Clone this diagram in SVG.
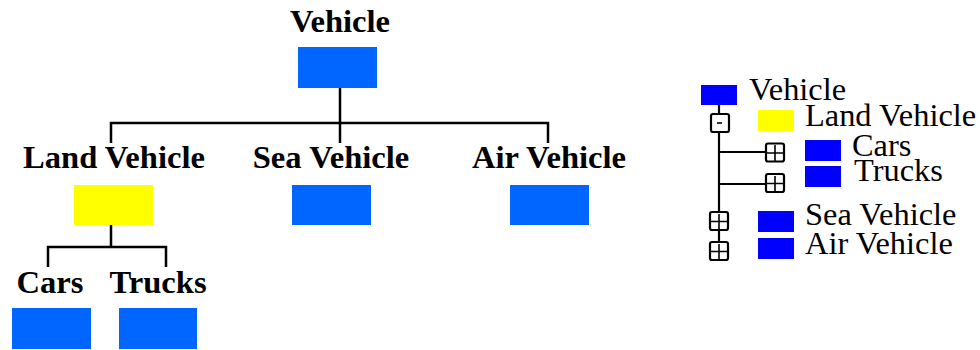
<svg xmlns="http://www.w3.org/2000/svg" width="980" height="350" viewBox="0 0 980 350">
<style>
.bt{font-family:"Liberation Serif","Times New Roman",serif;font-weight:bold;font-size:32.6px;fill:#000;text-anchor:middle}
.rt{font-family:"Liberation Serif","Times New Roman",serif;font-size:32.4px;fill:#000}
.blue{fill:#0066FF}
.yel{fill:#FFFF00}
.tb{fill:#0000FF}
.ln{stroke:#000;stroke-width:2.5;fill:none}
.tl{stroke:#000;stroke-width:2.2;fill:none}
.box{stroke:#000;stroke-width:2.2;fill:#fff}
.sg{stroke:#000;stroke-width:1.6;fill:none}
</style>
<rect width="980" height="350" fill="#fff"/>
<g id="connectors">
<path class="ln" d="M340 88V123M111 143V123H548V143M340 123V143"/>
<path class="ln" d="M111 225V247M48 267V247H166V267"/>
</g>
<g id="vehicle"><text class="bt" x="340" y="32">Vehicle</text><rect class="blue" x="298" y="47" width="79" height="41"/></g>
<g id="land-vehicle"><text class="bt" x="114" y="168">Land Vehicle</text><rect class="yel" x="74" y="185" width="79" height="40"/></g>
<g id="sea-vehicle"><text class="bt" x="331" y="168">Sea Vehicle</text><rect class="blue" x="292" y="185" width="79" height="40"/></g>
<g id="air-vehicle"><text class="bt" x="549" y="168">Air Vehicle</text><rect class="blue" x="510" y="185" width="79" height="40"/></g>
<g id="cars"><text class="bt" x="50" y="293">Cars</text><rect class="blue" x="12" y="308" width="79" height="41"/></g>
<g id="trucks"><text class="bt" x="158" y="293">Trucks</text><rect class="blue" x="119" y="308" width="78" height="41"/></g>
<g id="tree-view">
<g id="tree-lines">
<path class="tl" d="M719 105V114M719 132V212M719 230V242M719 152H766M719 184H766"/>
</g>
<g id="tree-vehicle"><rect class="tb" x="701" y="85" width="36" height="20"/><text class="rt" x="749" y="100">Vehicle</text></g>
<g id="tree-land"><rect class="box" x="711" y="114" width="18" height="18" rx="2"/><path class="sg" d="M717 123H722" stroke-width="3"/><rect class="yel" x="758" y="110" width="36" height="21"/><text class="rt" x="805" y="126">Land Vehicle</text></g>
<g id="tree-cars"><rect class="box" x="766" y="143.5" width="18" height="18" rx="2"/><path class="sg" d="M775 145V161M767 153H783"/><rect class="tb" x="805" y="140" width="36" height="21"/><text class="rt" x="852" y="156">Cars</text></g>
<g id="tree-trucks"><rect class="box" x="766" y="174" width="18" height="18" rx="2"/><path class="sg" d="M775 176V191M767 183.5H783"/><rect class="tb" x="805" y="166" width="36" height="21"/><text class="rt" x="854" y="181">Trucks</text></g>
<g id="tree-sea"><rect class="box" x="710" y="212" width="18" height="18" rx="2"/><path class="sg" d="M719 214V229M711 221.5H727"/><rect class="tb" x="758" y="211" width="36" height="21"/><text class="rt" x="805" y="225">Sea Vehicle</text></g>
<g id="tree-air"><rect class="box" x="710" y="242" width="18" height="18" rx="2"/><path class="sg" d="M719 244V259M711 251.5H727"/><rect class="tb" x="758" y="238" width="36" height="21"/><text class="rt" x="805" y="254">Air Vehicle</text></g>
</g>
</svg>
